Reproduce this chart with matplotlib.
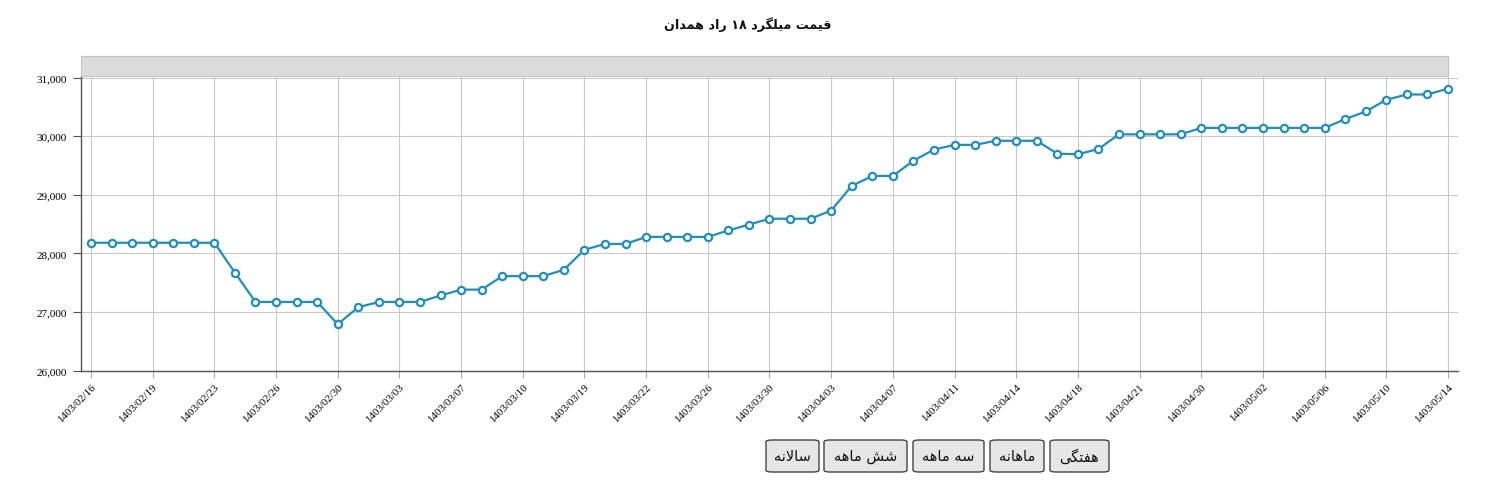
import matplotlib
matplotlib.use("Agg")
import matplotlib.pyplot as plt
from matplotlib.patches import FancyBboxPatch, Rectangle

# ---------------- data ----------------
title_text = "قیمت میلگرد ۱۸ راد همدان"
button_labels = ["سالانه", "شش ماهه", "سه ماهه", "ماهانه", "هفتگی"]

tick_labels = ["1403/02/16", "1403/02/19", "1403/02/23", "1403/02/26", "1403/02/30",
               "1403/03/03", "1403/03/07", "1403/03/10", "1403/03/19", "1403/03/22",
               "1403/03/26", "1403/03/30", "1403/04/03", "1403/04/07", "1403/04/11",
               "1403/04/14", "1403/04/18", "1403/04/21", "1403/04/30", "1403/05/02",
               "1403/05/06", "1403/05/10", "1403/05/14"]

prices = [28180, 28180, 28180, 28180, 28180, 28180, 28180,
          27670, 27170, 27170, 27170, 27170,
          26790, 27080, 27170, 27170, 27170, 27280, 27380, 27380,
          27610, 27610, 27610, 27720, 28060, 28160, 28160,
          28280, 28280, 28280, 28280, 28390, 28490, 28590, 28590, 28590,
          28730, 29150, 29320, 29320, 29580, 29770, 29850, 29850,
          29920, 29920, 29920, 29700, 29690, 29780,
          30030, 30030, 30030, 30030,
          30140, 30140, 30140, 30140, 30140, 30140, 30140,
          30290, 30420, 30620, 30710, 30710, 30810]

y_ticks = [26000, 27000, 28000, 29000, 30000, 31000]

# ---------------- minimal Arabic/Persian shaping for display ----------------
FORMS = {
    'ا': ('\uFE8D', '\uFE8E', None, None),
    'د': ('\uFEA9', '\uFEAA', None, None),
    'ر': ('\uFEAD', '\uFEAE', None, None),
    'ت': ('\uFE95', '\uFE96', '\uFE97', '\uFE98'),
    'س': ('\uFEB1', '\uFEB2', '\uFEB3', '\uFEB4'),
    'ش': ('\uFEB5', '\uFEB6', '\uFEB7', '\uFEB8'),
    'ف': ('\uFED1', '\uFED2', '\uFED3', '\uFED4'),
    'ق': ('\uFED5', '\uFED6', '\uFED7', '\uFED8'),
    'ل': ('\uFEDD', '\uFEDE', '\uFEDF', '\uFEE0'),
    'م': ('\uFEE1', '\uFEE2', '\uFEE3', '\uFEE4'),
    'ن': ('\uFEE5', '\uFEE6', '\uFEE7', '\uFEE8'),
    'ه': ('\uFEE9', '\uFEEA', '\uFEEB', '\uFEEC'),
    'ی': ('\uFBFC', '\uFBFD', '\uFBFE', '\uFBFF'),
    'گ': ('\uFB92', '\uFB93', '\uFB94', '\uFB95'),
}


def dual(c):
    return c in FORMS and FORMS[c][2] is not None


def shape_word(w):
    out = []
    i = 0
    n = len(w)
    while i < n:
        c = w[i]
        if c not in FORMS:
            out.append(c)
            i += 1
            continue
        prev_join = i > 0 and dual(w[i - 1])
        if c == 'ل' and i + 1 < n and w[i + 1] == 'ا':
            out.append('\uFEFC' if prev_join else '\uFEFB')
            i += 2
            continue
        next_join = dual(c) and i + 1 < n and w[i + 1] in FORMS
        iso, fin, ini, med = FORMS[c]
        if prev_join and next_join:
            out.append(med)
        elif prev_join:
            out.append(fin)
        elif next_join:
            out.append(ini)
        else:
            out.append(iso)
        i += 1
    return out


def visual(s):
    words = s.split(' ')
    vis_words = []
    for w in words:
        if all(ch in FORMS for ch in w):
            vis_words.append(''.join(reversed(shape_word(w))))
        else:
            vis_words.append(w)
    return ' '.join(reversed(vis_words))


# ---------------- figure ----------------
W, H = 1489, 481
fig = plt.figure(figsize=(W / 100, H / 100), dpi=100)
fig.patch.set_facecolor('white')

ax = fig.add_axes([81 / W, 1 - 371.5 / H, (1458 - 81) / W, (371.5 - 57) / H])
x = list(range(len(prices)))
px_per_idx = (1448 - 91) / (len(prices) - 1)
pad = 10 / px_per_idx
ax.set_xlim(-pad, len(prices) - 1 + pad)
ylo = 26000
yhi = 26000 + (371.5 - 57) / 58.6 * 1000
ax.set_ylim(ylo, yhi)

line_color = '#238dbb'
ax.plot(x, prices, color=line_color, lw=1.6, marker='o', ms=5.2,
        markerfacecolor='white', markeredgecolor=line_color, mew=1.6, zorder=3)

ax.set_yticks(y_ticks)
ax.set_yticklabels([f"{v:,}" for v in y_ticks])
tick_pos = list(range(0, len(prices), 3))
ax.set_xticks(tick_pos)
ax.set_xticklabels(tick_labels, rotation=45, ha='right', va='top',
                   rotation_mode='anchor')

ax.grid(True, color='#c9c9c9', lw=0.8, zorder=0)
for s in ['top', 'right']:
    ax.spines[s].set_visible(False)
for s in ['left', 'bottom']:
    ax.spines[s].set_color('#555555')
    ax.spines[s].set_linewidth(1.0)
band_lo = 26000 + (371.5 - 77) / 58.6 * 1000
ax.spines['left'].set_bounds(ylo, band_lo)

ax.tick_params(axis='y', length=6, color='#555555', labelsize=8, pad=4)
ax.tick_params(axis='x', length=5, color='#aaaaaa', labelsize=7.8, pad=3)
for lab in ax.get_xticklabels() + ax.get_yticklabels():
    lab.set_fontfamily('Liberation Serif')
    lab.set_color('#000000')

# grey navigator band at top
band = Rectangle((-pad, band_lo), (len(prices) - 1) + pad, yhi - band_lo,
                 facecolor='#dcdcdc', edgecolor='#c4c4c4', lw=0.8, zorder=4,
                 clip_on=False)
ax.add_patch(band)

# title
fig.text(748 / W, 1 - 25 / H, visual(title_text), ha='center', va='center',
         fontsize=9.2, fontweight='bold', family='DejaVu Sans', color='#111111')

# buttons
btn_boxes = [(766, 819), (824, 907), (913, 984), (990, 1044), (1050, 1109)]
by0, by1 = 441, 473
for (bx0, bx1), lab in zip(btn_boxes, button_labels):
    r = FancyBboxPatch((bx0 / W, 1 - by1 / H), (bx1 - bx0) / W, (by1 - by0) / H,
                       boxstyle="round,pad=0,rounding_size=0.004",
                       transform=fig.transFigure, facecolor='#e6e6e6',
                       edgecolor='#444444', lw=1.0)
    fig.add_artist(r)
    fig.text((bx0 + bx1) / 2 / W, 1 - (by0 + by1) / 2 / H, visual(lab),
             ha='center', va='center', fontsize=10.5, family='DejaVu Sans',
             color='#111111')

fig.savefig('out.png', dpi=100, facecolor='white')
